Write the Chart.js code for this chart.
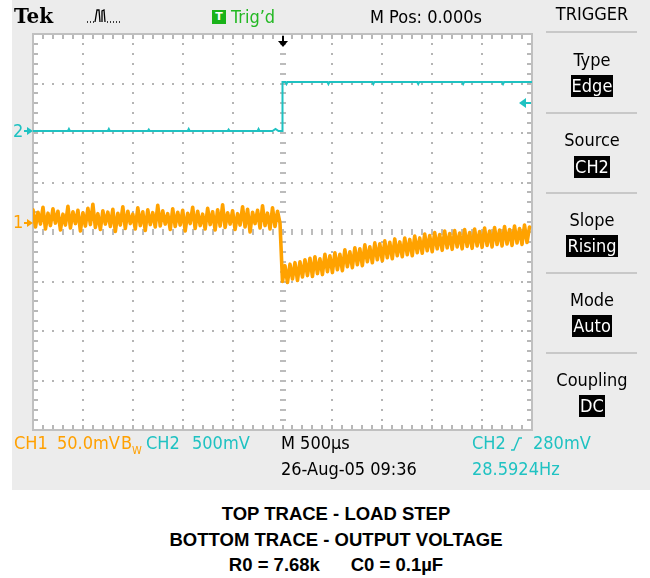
<!DOCTYPE html>
<html lang="en">
<head>
  <meta charset="UTF-8">
  <title>Load step / output voltage - scope capture</title>
  <script src="https://cdn.jsdelivr.net/npm/chart.js@4"></script>
  <style>
    html, body { margin: 0; padding: 0; background: #ffffff; }
    #page { position: relative; width: 650px; height: 578px; overflow: hidden; }
    #scope { position: absolute; left: 12px; top: 0; width: 638px; height: 490px; background: #ececec; }
    #chart { position: absolute; left: 0; top: 0; }
    .t {
      position: absolute;
      font-family: "DejaVu Sans Condensed", "DejaVu Sans", sans-serif;
      font-stretch: condensed;
      font-size: 18px;
      line-height: 20px;
      white-space: nowrap;
      color: #000;
    }
    .ch1 { color: #ffa000; }
    .ch2 { color: #1fc2c2; }
    .menu { left: 542px; width: 100px; text-align: center; }
    .box span { display: inline-block; height: 22px; line-height: 22px; padding: 0 1px; background: #000; color: #fff; }
    .sep { position: absolute; left: 546px; width: 91px; height: 2px; background: #c8c8c8; }
    .cap {
      position: absolute; left: 22px; width: 628px; text-align: center;
      font-family: "Liberation Sans", Arial, sans-serif; font-weight: bold;
      font-size: 18.5px; line-height: 20px; color: #000; white-space: pre;
    }
  </style>
</head>
<body>
<div id="page">
  <div id="scope"></div>
  <canvas id="chart" width="650" height="490"></canvas>

  <!-- top status bar -->
  <div class="t" style="left:14px;top:5px;font-family:'DejaVu Serif',serif;font-stretch:normal;font-weight:bold;font-size:20px;line-height:22px">Tek</div>
  <svg style="position:absolute;left:86px;top:8px" width="38" height="16">
    <path d="M1 14h1M4 14h1M7 14h1M9 14 L11 2 L13 2 L14 14 M16 14 L16 3 L18 2 L19 14 M21 14h1M24 14h1M27 14h1M30 14h1M33 14h1" stroke="#000" stroke-width="1.3" fill="none"/>
  </svg>
  <div style="position:absolute;left:212px;top:10px;width:14px;height:14px;background:#19b319;color:#fff;font:bold 11px 'DejaVu Sans',sans-serif;line-height:14px;text-align:center">T</div>
  <div class="t" style="left:231px;top:7px;color:#22b822">Trig’d</div>
  <div class="t" style="left:370px;top:7px">M Pos: 0.000s</div>

  <!-- trigger menu -->
  <div class="t menu" style="top:4px">TRIGGER</div>
  <div class="sep" style="top:31px"></div>
  <div class="t menu" style="top:50px">Type</div>
  <div class="t menu box" style="top:75px"><span>Edge</span></div>
  <div class="sep" style="top:112px"></div>
  <div class="t menu" style="top:130px">Source</div>
  <div class="t menu box" style="top:156px"><span>CH2</span></div>
  <div class="sep" style="top:192px"></div>
  <div class="t menu" style="top:210px">Slope</div>
  <div class="t menu box" style="top:235px"><span>Rising</span></div>
  <div class="sep" style="top:272px"></div>
  <div class="t menu" style="top:290px">Mode</div>
  <div class="t menu box" style="top:315px"><span>Auto</span></div>
  <div class="sep" style="top:352px"></div>
  <div class="t menu" style="top:370px">Coupling</div>
  <div class="t menu box" style="top:395px"><span>DC</span></div>

  <!-- channel ground markers -->
  <div class="t ch2" style="left:13px;top:121px">2</div>
  <div class="t ch1" style="left:13px;top:212px">1</div>

  <!-- bottom readouts -->
  <div class="t ch1" style="left:14px;top:433px">CH1</div>
  <div class="t ch1" style="left:57px;top:433px">50.0mV</div>
  <div class="t ch1" style="left:121px;top:433px">B<span style="font-size:11px;vertical-align:-5px">W</span></div>
  <div class="t ch2" style="left:146px;top:433px">CH2</div>
  <div class="t ch2" style="left:192px;top:433px">500mV</div>
  <div class="t" style="left:281px;top:433px">M 500µs</div>
  <div class="t ch2" style="left:472px;top:433px">CH2</div>
  <svg style="position:absolute;left:511px;top:436px" width="12" height="16">
    <path d="M0 14 L3 14 L8 2 L11 2" stroke="#1fc2c2" stroke-width="1.4" fill="none"/>
  </svg>
  <div class="t ch2" style="left:533px;top:433px">280mV</div>
  <div class="t" style="left:281px;top:459px">26-Aug-05 09:36</div>
  <div class="t ch2" style="left:472px;top:459px">28.5924Hz</div>

  <!-- caption -->
  <div class="cap" style="top:504px">TOP TRACE - LOAD STEP</div>
  <div class="cap" style="top:530px">BOTTOM TRACE - OUTPUT VOLTAGE</div>
  <div class="cap" style="top:555px">R0 = 7.68k      C0 = 0.1µF</div>
</div>

<script>
// Screen units are divisions: x 0..10 (500us/div), y 0..8 counted from the bottom
var xDivisions = 10;
var yDivisions = 8;

// CH1 - output voltage (50mV/div), one sample every 0.05 div
var ch1SampleStep = 0.05;
var ch1BeforeStep = [
  4.45, 4.10, 4.40, 4.16, 4.50, 4.06, 4.38, 4.13, 4.47, 4.18,
  4.42, 4.04, 4.36, 4.14, 4.52, 4.08, 4.41, 4.17, 4.44, 4.02,
  4.39, 4.12, 4.48, 4.15, 4.56, 4.09, 4.37, 4.05, 4.43, 4.16,
  4.40, 4.11, 4.46, 4.01, 4.38, 4.14, 4.51, 4.07, 4.42, 4.17,
  4.36, 4.06, 4.49, 4.13, 4.41, 4.03, 4.45, 4.15, 4.39, 4.10,
  4.54, 4.12, 4.43, 4.16, 4.37, 4.05, 4.47, 4.11, 4.40, 4.14,
  4.44, 4.02, 4.38, 4.17, 4.50, 4.07, 4.42, 4.13, 4.36, 4.06,
  4.48, 4.15, 4.41, 4.04, 4.45, 4.12, 4.55, 4.09, 4.39, 4.16,
  4.43, 4.05, 4.37, 4.14, 4.51, 4.10, 4.46, 4.00, 4.40, 4.17,
  4.44, 4.08, 4.53, 4.13, 4.38, 4.06, 4.49, 4.11, 4.42, 4.18
];
var ch1AfterStep = [
  3.00, 3.32, 2.98, 3.35, 3.05, 3.38, 3.02, 3.40, 3.09, 3.44,
  3.12, 3.47, 3.10, 3.50, 3.16, 3.46, 3.14, 3.55, 3.20, 3.52,
  3.18, 3.58, 3.24, 3.55, 3.22, 3.64, 3.30, 3.60, 3.28, 3.68,
  3.34, 3.66, 3.32, 3.74, 3.40, 3.70, 3.38, 3.78, 3.44, 3.76,
  3.42, 3.82, 3.48, 3.79, 3.46, 3.86, 3.52, 3.80, 3.50, 3.88,
  3.54, 3.85, 3.52, 3.92, 3.58, 3.88, 3.57, 3.96, 3.62, 3.93,
  3.60, 3.99, 3.66, 3.95, 3.63, 4.02, 3.68, 3.97, 3.65, 4.03,
  3.70, 3.98, 3.66, 4.05, 3.71, 3.99, 3.67, 4.06, 3.72, 4.01,
  3.69, 4.08, 3.73, 4.02, 3.70, 4.09, 3.75, 4.04, 3.72, 4.11,
  3.76, 4.05, 3.73, 4.12, 3.78, 4.07, 3.75, 4.14, 3.79, 4.10
];

// CH2 - load step (500mV/div)
var ch2Time = [
  0, 0.70, 0.72, 0.74, 1.50, 1.52, 1.54, 2.30, 2.32, 2.34,
  3.10, 3.12, 3.14, 3.90, 3.92, 3.94, 4.50, 4.52, 4.54, 4.80,
  4.86, 4.92, 5.00, 5.00, 5.06, 5.08, 5.10, 5.90, 5.92, 5.94,
  6.80, 6.82, 6.84, 7.70, 7.72, 7.74, 8.60, 8.62, 8.64, 9.40,
  9.42, 9.44, 10.0
];
var ch2Level = [
  6.04, 6.04, 6.08, 6.04, 6.04, 6.08, 6.04, 6.04, 6.07, 6.04,
  6.04, 6.08, 6.04, 6.04, 6.07, 6.04, 6.04, 6.08, 6.04, 6.04,
  6.08, 6.04, 6.04, 7.03, 7.03, 6.99, 7.03, 7.03, 6.99, 7.03,
  7.03, 6.99, 7.03, 7.03, 6.99, 7.03, 7.03, 6.99, 7.03, 7.03,
  6.99, 7.03, 7.03
];

// Markers
var ch1Ground = 4.19;
var ch2Ground = 6.04;
var triggerTime = 5.0;
var triggerLevel = 6.60;   // CH2 280mV

var CH1_COLOR = "#ffa200";
var CH2_COLOR = "#1fc2c2";

/* Build point lists for the line datasets */
var ch1Values = ch1BeforeStep.concat(ch1AfterStep);
var ch1Points = [];
for (var i = 0; i < ch1Values.length; i++) {
  ch1Points.push({ x: i * ch1SampleStep, y: ch1Values[i] });
}
var ch2Points = [];
for (var k = 0; k < ch2Time.length; k++) {
  ch2Points.push({ x: ch2Time[k], y: ch2Level[k] });
}

/* Small right-pointing ground arrow left of the graticule */
function drawGroundMarker(ctx, x, y, color) {
  y = Math.round(y);
  ctx.fillStyle = color;
  ctx.fillRect(x - 9, y - 1, 4, 2);
  ctx.beginPath();
  ctx.moveTo(x - 6, y - 4);
  ctx.lineTo(x, y);
  ctx.lineTo(x - 6, y + 4);
  ctx.closePath();
  ctx.fill();
}

/* Scope graticule: white screen, dotted divisions, center cross and frame ticks */
var graticulePlugin = {
  id: "graticule",
  beforeDatasetsDraw: function(chart) {
    var ctx = chart.ctx;
    var a = chart.chartArea;
    var sx = chart.scales.x;
    var sy = chart.scales.y;
    var px, py, n;

    ctx.save();
    ctx.fillStyle = "#ffffff";
    ctx.fillRect(a.left, a.top, a.right - a.left, a.bottom - a.top);

    // dotted division lines, a dot every 0.2 div
    ctx.fillStyle = "#b4b4b4";
    for (var i = 1; i < xDivisions; i++) {
      if (i == xDivisions / 2) continue;
      px = Math.round(sx.getPixelForValue(i));
      for (n = 1; n < yDivisions * 5; n++) {
        py = Math.round(sy.getPixelForValue(n / 5));
        ctx.fillRect(px - 1, py - 1, 2, 2);
      }
    }
    for (var j = 1; j < yDivisions; j++) {
      if (j == yDivisions / 2) continue;
      py = Math.round(sy.getPixelForValue(j));
      for (n = 1; n < xDivisions * 5; n++) {
        px = Math.round(sx.getPixelForValue(n / 5));
        ctx.fillRect(px - 1, py - 1, 2, 2);
      }
    }

    // center cross with minor ticks
    var cx = Math.round(sx.getPixelForValue(xDivisions / 2));
    var cy = Math.round(sy.getPixelForValue(yDivisions / 2));
    ctx.fillStyle = "#bcbcbc";
    for (n = 1; n < yDivisions * 5; n++) {
      py = Math.round(sy.getPixelForValue(n / 5));
      ctx.fillRect(cx - 3, py - 1, 6, 2);
    }
    for (n = 1; n < xDivisions * 5; n++) {
      px = Math.round(sx.getPixelForValue(n / 5));
      ctx.fillRect(px - 1, cy - 3, 2, 6);
    }

    // frame and its minor ticks
    ctx.fillStyle = "#b8b8b8";
    for (n = 1; n < xDivisions * 5; n++) {
      px = Math.round(sx.getPixelForValue(n / 5));
      ctx.fillRect(px - 1, a.top, 2, 5);
      ctx.fillRect(px - 1, a.bottom - 5, 2, 5);
    }
    for (n = 1; n < yDivisions * 5; n++) {
      py = Math.round(sy.getPixelForValue(n / 5));
      ctx.fillRect(a.left, py - 1, 5, 2);
      ctx.fillRect(a.right - 5, py - 1, 5, 2);
    }
    ctx.strokeStyle = "#c0c0c0";
    ctx.lineWidth = 2;
    ctx.strokeRect(a.left, a.top, a.right - a.left, a.bottom - a.top);
    ctx.restore();
  },
  afterDatasetsDraw: function(chart) {
    var ctx = chart.ctx;
    var a = chart.chartArea;
    var sx = chart.scales.x;
    var sy = chart.scales.y;

    ctx.save();
    // trigger position arrow at the top
    var tx = Math.round(sx.getPixelForValue(triggerTime));
    ctx.fillStyle = "#000000";
    ctx.fillRect(tx - 1, a.top + 2, 2, 7);
    ctx.beginPath();
    ctx.moveTo(tx - 5, a.top + 7);
    ctx.lineTo(tx + 5, a.top + 7);
    ctx.lineTo(tx, a.top + 13);
    ctx.closePath();
    ctx.fill();

    // channel ground markers
    drawGroundMarker(ctx, a.left, sy.getPixelForValue(ch2Ground), CH2_COLOR);
    drawGroundMarker(ctx, a.left, sy.getPixelForValue(ch1Ground), CH1_COLOR);

    // trigger level arrow at the right edge
    var ly = Math.round(sy.getPixelForValue(triggerLevel));
    ctx.fillStyle = CH2_COLOR;
    ctx.fillRect(a.right - 8, ly - 1, 7, 2);
    ctx.beginPath();
    ctx.moveTo(a.right - 13, ly);
    ctx.lineTo(a.right - 6, ly - 5);
    ctx.lineTo(a.right - 6, ly + 5);
    ctx.closePath();
    ctx.fill();
    ctx.restore();
  }
};

var chart = new Chart(document.getElementById("chart"), {
  type: "line",
  data: {
    datasets: [
      {
        label: "CH2",
        data: ch2Points,
        borderColor: CH2_COLOR,
        borderWidth: 2,
        pointRadius: 0,
        tension: 0
      },
      {
        label: "CH1",
        data: ch1Points,
        borderColor: CH1_COLOR,
        borderWidth: 3.6,
        borderJoinStyle: "round",
        borderCapStyle: "round",
        pointRadius: 0,
        tension: 0
      }
    ]
  },
  options: {
    responsive: false,
    devicePixelRatio: 1,
    animation: false,
    events: [],
    layout: { padding: { left: 33, top: 34, right: 118, bottom: 60 } },
    plugins: {
      legend: { display: false },
      tooltip: { enabled: false }
    },
    scales: {
      x: { type: "linear", min: 0, max: xDivisions, display: false },
      y: { type: "linear", min: 0, max: yDivisions, display: false }
    }
  },
  plugins: [graticulePlugin]
});
</script>
</body>
</html>
